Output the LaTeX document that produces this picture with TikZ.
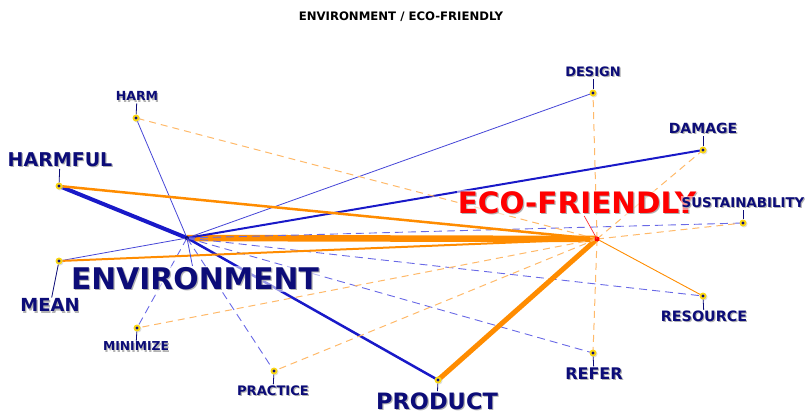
\documentclass[tikz,border=0pt]{standalone}
\usepackage{fontspec}
\newfontfamily\wordfont{DejaVu Sans}
\usetikzlibrary{shadows}

\definecolor{wordblue}{RGB}{12,12,120}
\definecolor{linkblue}{RGB}{25,25,200}
\definecolor{thinblue}{RGB}{70,70,215}
\definecolor{dashblue}{RGB}{105,105,230}
\definecolor{linkorange}{RGB}{255,140,0}
\definecolor{dashorange}{RGB}{255,185,105}
\definecolor{dotyellow}{RGB}{250,215,20}

% text with a light shadow below right
\newcommand\shadowed[1]{\rlap{\kern1.2pt\raisebox{-1.2pt}{\color{black!30}#1}}#1}

\tikzset{
  word/.style={text=wordblue, fill=white, fill opacity=0.55, text opacity=1, inner sep=1pt},
  site/.style={circle, fill=dotyellow, minimum size=7pt, inner sep=0pt,
    drop shadow={shadow xshift=1pt, shadow yshift=-1pt, fill=black!25}},
  leader/.style={wordblue, line width=0.8pt},
  thinlink/.style={thinblue, line width=0.8pt},
  bluedash/.style={dashblue, line width=0.9pt, dash pattern=on 8pt off 5pt},
  orangedash/.style={dashorange, line width=1pt, dash pattern=on 7pt off 5pt}
}

\begin{document}
\begin{tikzpicture}[x=1pt,y=-1pt]
     \useasboundingbox (0,0) rectangle (805,415);
     \node[font=\wordfont\bfseries\fontsize{11.7}{14}\selectfont] (title) at (401,16.5) {ENVIRONMENT / ECO-FRIENDLY};
     %%%%%%%%%%%%%%%%%%%%%%%%%%%%%%%%%%%%%%%%%%%%%%
     %%% The two main words and their sites
     %%%%%%%%%%%%%%%%%%%%%%%%%%%%%%%%%%%%%%%%%%%%%%
     \coordinate (env) at (187,238);
     \coordinate (eco) at (597,239);
     \foreach \nm/\x/\y in {harm/136/118, harmful/59/186, mean/59/261,
         minimize/137/328, practice/274/371, product/438/380, refer/593/353,
         resource/703/296, sust/743/223, damage/703/150, design/593/93}
         \coordinate (\nm) at (\x,\y);

     % strongest link, drawn first
     \draw[linkorange, line width=6.5pt] (eco) -- (env);
     % links of ENVIRONMENT, blue
     \foreach \w/\lw in {harmful/4, product/2.5, damage/2}
         \draw[linkblue, line width=\lw pt] (env) -- (\w);
     \foreach \w in {harm, design, mean}
         \draw[thinlink] (env) -- (\w);
     \foreach \w in {sust, minimize, practice, refer, resource}
         \draw[bluedash] (env) -- (\w);
     % links of ECO-FRIENDLY, orange
     \foreach \w/\lw in {product/5, harmful/2.5, mean/2}
         \draw[linkorange, line width=\lw pt] (eco) -- (\w);
     \draw[linkorange, line width=0.9pt] (eco) -- (resource);
     \foreach \w in {harm, design, damage, sust, refer, practice, minimize}
         \draw[orangedash] (eco) -- (\w);

     % sites
     \foreach \nm in {harm, harmful, mean, minimize, practice, product, refer, resource, sust, damage, design}
     {\node[site] (\nm-s) at (\nm) {};
       \fill[wordblue] (\nm) circle (1.6pt);
     }
     \fill[wordblue] (env) circle (2pt);
     \fill[red] (eco) circle (2.5pt);

     %%%%%%%%%%%%%%%%%%%%%%%%%%%%%%%%%%%%%%%%%%%%%%
     %%% Words
     %%%%%%%%%%%%%%%%%%%%%%%%%%%%%%%%%%%%%%%%%%%%%%
     \node[word, font=\wordfont\bfseries\fontsize{29.8}{30}\selectfont] (env-w) at (195,279) {\shadowed{ENVIRONMENT}};
     \draw[thinlink] (env) -- (env-w);
     \node[word, text=red, font=\wordfont\bfseries\fontsize{29.5}{30}\selectfont] (eco-w) at (577,203) {\shadowed{ECO-FRIENDLY}};
     \draw[red!80, line width=0.7pt] (eco) -- (eco-w);
     \foreach \nm/\lx/\ly/\sz/\txt in {harm/137/97/12.5/HARM, harmful/60/160/19/HARMFUL,
         mean/50/306/18/MEAN, minimize/136/347/12.3/MINIMIZE, practice/273/391/13.1/PRACTICE,
         product/437/401.5/22.5/PRODUCT, refer/594/374/16/REFER, resource/704/317/14.3/RESOURCE,
         sust/743/203/13.4/SUSTAINABILITY, damage/703/129/14/DAMAGE, design/593/72/13/DESIGN}
     {\node[word, font=\wordfont\bfseries\fontsize{\sz}{\sz}\selectfont] (\nm-w) at (\lx,\ly) {\shadowed{\txt}};
       \draw[leader] (\nm-s) -- (\nm-w);
     }
\end{tikzpicture}
\end{document}
